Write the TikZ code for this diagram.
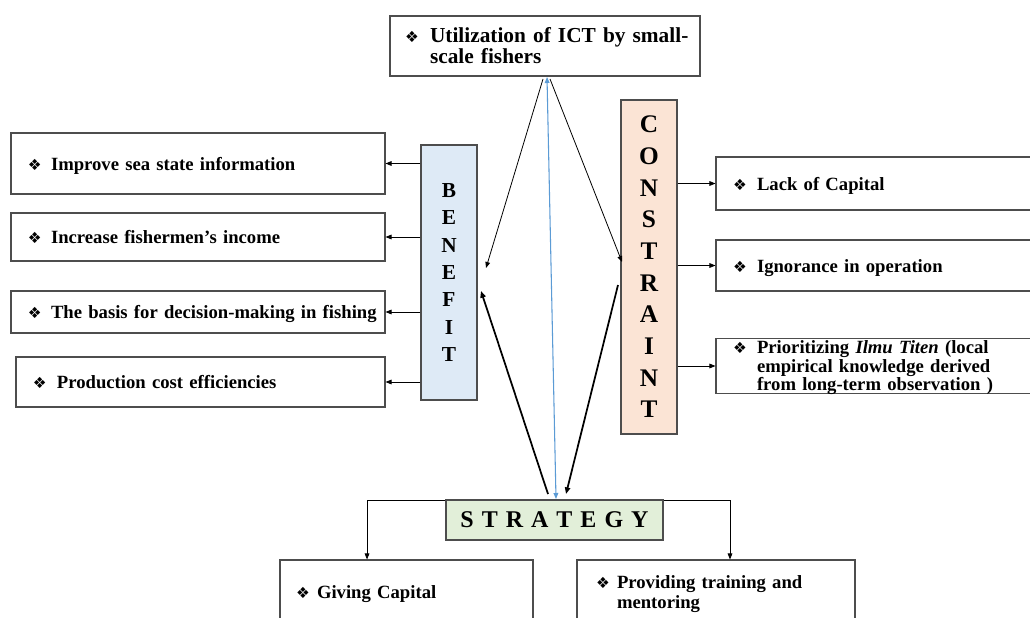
\documentclass[tikz,border=0pt]{standalone}
\usepackage{fontspec}
\setmainfont{Liberation Serif}
\newfontfamily\dejavu{DejaVu Sans}
\usetikzlibrary{arrows.meta}
\definecolor{benfill}{HTML}{DEEAF6}
\definecolor{confill}{HTML}{FBE4D5}
\definecolor{strfill}{HTML}{E2EFD9}
\definecolor{bordergray}{HTML}{4D4D4D}
\definecolor{lineblue}{HTML}{5B9BD5}
\newcommand\bul{{\dejavu\fontsize{11.5pt}{11.5pt}\selectfont ❖}}
\newcommand\bitem[3]{\raisebox{-2pt}[\height][\depth]{\hspace*{#1}\makebox[#2][l]{\bul}\begin{tabular}[t]{@{}l@{}}#3\end{tabular}}}
\tikzset{
  box/.style={draw=bordergray, line width=0.8pt, rectangle, inner xsep=0pt, inner ysep=0pt,
    align=left, font=\bfseries\fontsize{14pt}{15pt}\selectfont},
  colbox/.style={draw=bordergray, line width=0.8pt, rectangle, inner sep=0pt, align=center},
  thinarrow/.style={draw=black, line width=0.6pt, -{Triangle[length=4.5pt,width=3.5pt]}},
  thickarrow/.style={draw=black, line width=1.3pt, -{Triangle[length=5pt,width=4pt]}},
  bluearrow/.style={draw=lineblue, line width=0.8pt, {Triangle[length=4.5pt,width=3.5pt]}-{Triangle[length=4.5pt,width=3.5pt]}}
}
\begin{document}
\begin{tikzpicture}[x=0.75pt,y=-0.75pt]
\useasboundingbox (0,0) rectangle (1030,617);
\clip (0,0) rectangle (1030,617);
\fill[white] (0,0) rectangle (1030,617);

% top box
\node[box, text width=232.5pt, minimum height=45pt, font=\bfseries\fontsize{16pt}{15.75pt}\selectfont] (ict) at (545,46)
  {\bitem{11.25pt}{18.75pt}{Utilization of ICT by small-\\scale fishers}};

% benefit column
\node[colbox, fill=benfill, minimum width=42pt, minimum height=191.25pt,
  font=\bfseries\fontsize{16pt}{20.5pt}\selectfont] (benefit) at (449,272.5)
  {B\\E\\N\\E\\F\\I\\T};
\node[box, text width=280.5pt, minimum height=45.75pt] (b1) at (198,163.5)
  {\bitem{12.75pt}{17.25pt}{Improve sea state information}};
\node[box, text width=280.5pt, minimum height=36pt] (b2) at (198,237)
  {\bitem{12.75pt}{17.25pt}{Increase fishermen's income}};
\node[box, text width=280.5pt, minimum height=31.5pt] (b3) at (198,312)
  {\bitem{12.75pt}{17.25pt}{The basis for decision-making in fishing}};
\node[box, text width=276.75pt, minimum height=37.5pt] (b4) at (200.5,382)
  {\bitem{12.75pt}{18pt}{Production cost efficiencies}};

% constraint column
\node[colbox, fill=confill, minimum width=42pt, minimum height=250.5pt,
  font=\bfseries\fontsize{19pt}{23.75pt}\selectfont] (constraint) at (649,267)
  {C\\O\\N\\S\\T\\R\\A\\I\\N\\T};
\node[box, text width=247.5pt, minimum height=39.75pt] (c1) at (881,183.5)
  {\bitem{12.75pt}{18pt}{Lack of Capital}};
\node[box, text width=247.5pt, minimum height=38.25pt] (c2) at (881,265.5)
  {\bitem{12.75pt}{18pt}{Ignorance in operation}};
\node[box, text width=247.5pt, minimum height=39pt, font=\bfseries\fontsize{14pt}{13.75pt}\selectfont] (c3) at (881,366)
  {\bitem{12.75pt}{18pt}{Prioritizing \textit{Ilmu Titen} (local\\empirical knowledge derived\\from long-term observation )}};

% strategy
\node[colbox, fill=strfill, minimum width=162.75pt, minimum height=30pt,
  font=\bfseries\fontsize{18pt}{20pt}\selectfont] (strategy) at (554.5,520)
  {S\hspace{6pt}T\hspace{6pt}R\hspace{6pt}A\hspace{6pt}T\hspace{6pt}E\hspace{6pt}G\hspace{6pt}Y};
\node[box, text width=189.75pt, minimum height=48pt] (s1) at (406.5,592)
  {\bitem{12pt}{15.75pt}{Giving Capital}};
\node[box, text width=208.5pt, minimum height=48pt] (s2) at (716,592)
  {\bitem{14.25pt}{15.75pt}{Providing training and\\mentoring}};

% benefit arrows
\foreach \b in {b1,b2,b3,b4}
  \draw[thinarrow] (benefit.west |- \b.east) -- (\b.east);
% constraint arrows
\foreach \c in {c1,c2,c3}
  \draw[thinarrow] (constraint.east |- \c.west) -- (\c.west);

% strategy branches
\draw[thinarrow] ([yshift=-0.8pt]strategy.north west) -| ([xshift=-29.6pt]s1.north);
\draw[thinarrow] ([yshift=-0.8pt]strategy.north east) -| ([xshift=10.5pt]s2.north);

% diagonals
\coordinate (ictA) at (543,79);
\coordinate (benA) at (486,268);
\coordinate (ictB) at (550,79);
\coordinate (conA) at (622,262);
\coordinate (ictC) at (547,77);
\coordinate (strA) at (556,499);
\coordinate (strB) at (548,494);
\coordinate (benB) at (481,291);
\coordinate (conB) at (618,285);
\coordinate (strC) at (566,494);
\draw[thinarrow] (ictA) -- (benA);
\draw[thinarrow] (ictB) -- (conA);
\draw[bluearrow] (ictC) -- (strA);
\draw[thickarrow] (strB) -- (benB);
\draw[thickarrow] (conB) -- (strC);
\end{tikzpicture}
\end{document}
